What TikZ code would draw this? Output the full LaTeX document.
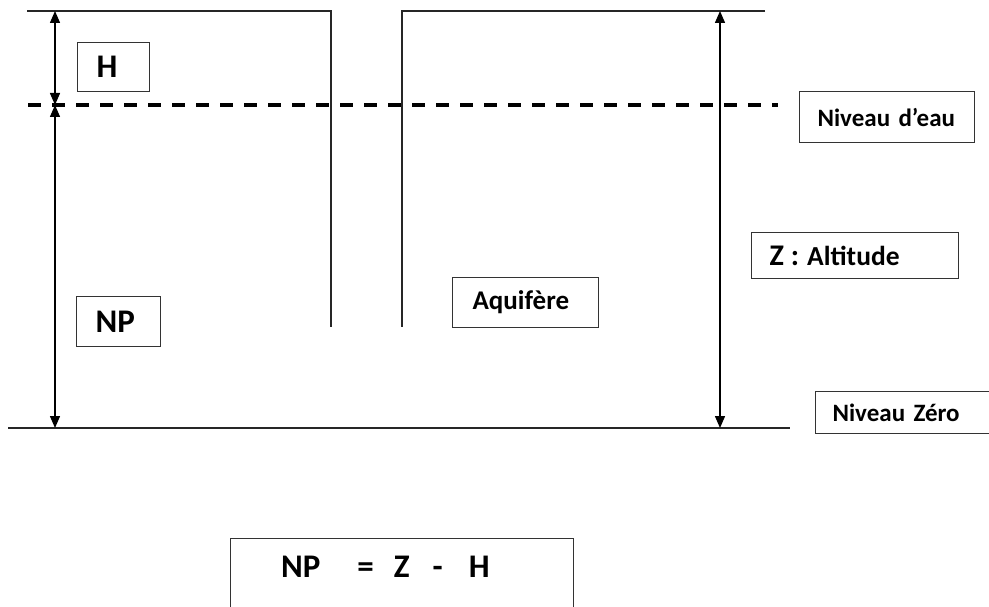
\documentclass[tikz,border=0pt]{standalone}
\usepackage{fontspec}
\setmainfont{Carlito}
\usetikzlibrary{arrows.meta}
\begin{document}
\begin{tikzpicture}[x=1pt,y=1pt,
  frame/.style={line width=1.4pt, draw=black!85},
  lbl/.style={draw=black!80, line width=1.2pt, anchor=north west, inner ysep=0pt, align=left, font=\bfseries},
  dimarrow/.style={line width=1.4pt, {Triangle[width=10pt,length=12pt]}-{Triangle[width=10pt,length=12pt]}},
  big/.style={font=\bfseries\fontsize{33}{36}\selectfont},
  small/.style={font=\bfseries\fontsize{25}{28}\selectfont}
]
\useasboundingbox (0,0) rectangle (989,-607);

% well / borehole outline
\coordinate (tl1) at (27,-11);
\coordinate (tl2) at (331,-11);
\coordinate (tl3) at (331,-327);
\coordinate (tr1) at (765,-11);
\coordinate (tr2) at (402,-11);
\coordinate (tr3) at (402,-327);
\draw[frame] (tl1) -- (tl2) -- (tl3);
\draw[frame] (tr1) -- (tr2) -- (tr3);

% water level (dashed) and zero level
\coordinate (wa) at (28,-105);
\coordinate (wb) at (778,-105);
\draw[line width=3.4pt, dash pattern=on 13pt off 11pt] (wa) -- (wb);
\coordinate (za) at (8,-428);
\coordinate (zb) at (790,-428);
\draw[frame] (za) -- (zb);

% dimension arrows
\coordinate (topL) at (55,-11);
\coordinate (wL) at (55,-105);
\coordinate (botL) at (55,-428);
\coordinate (topR) at (720,-11);
\coordinate (botR) at (720,-428);
\draw[dimarrow] (topL) -- (wL);
\draw[dimarrow] (wL) -- (botL);
\draw[dimarrow] (topR) -- (botR);

% labels
\node[lbl, big, inner xsep=19pt, text width=34pt, minimum height=49pt] (H) at (77,-42) {H};
\node[lbl, big, inner xsep=19pt, text width=46pt, minimum height=50pt] (NP) at (76,-296) {NP};
\node[lbl, font=\bfseries\fontsize{27}{30}\selectfont, inner xsep=20pt, text width=106pt, minimum height=50pt] (aq) at (452,-277) {Aquifère};
\node[lbl, small, inner xsep=18pt, text width=139pt, minimum height=51pt] (ne) at (799,-91) {Niveau d’eau};
\node[lbl, inner xsep=18pt, text width=171pt, minimum height=46pt] (alt) at (751,-232) {\raisebox{-4pt}{{\bfseries\fontsize{30}{34}\selectfont Z\hspace{7pt}:}\hspace{8pt}{\bfseries\fontsize{27.5}{30}\selectfont Altitude}}};
\node[lbl, small, inner xsep=17pt, text width=140pt, minimum height=42pt] (nz) at (815,-391) {Niveau Zéro};

% formula
\node[draw=black!80, line width=1.2pt, anchor=north west, minimum width=343pt, minimum height=90pt] (fbox) at (230,-538) {};
\node[big, anchor=base west, inner sep=0pt] (formula) at (281,-577) {NP\hspace{37pt}=\hspace{20pt}Z\hspace{23pt}-\hspace{26pt}H};
\end{tikzpicture}
\end{document}
